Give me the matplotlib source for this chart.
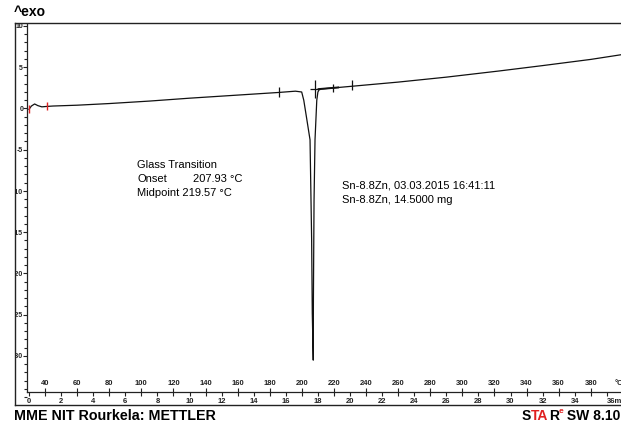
import matplotlib.pyplot as plt
from matplotlib.ticker import MultipleLocator

plt.rcParams['font.family'] = ['Liberation Sans', 'DejaVu Sans']

# DSC run Sn-8.8Zn, heat flow (mW) against time (min), 10 K/min from 30 C
time_min = [0.0, 0.15, 0.35, 0.55, 0.8, 1.1, 1.5, 3.0, 5.0, 7.5, 10.0, 12.0,
            14.0, 15.6, 16.6, 16.99, 17.12, 17.3, 17.51, 17.61, 17.65, 17.71,
            17.72, 17.76, 17.82, 17.93, 18.0, 18.1, 19.0, 21.0, 23.0, 26.0,
            29.3, 32.0, 35.0, 37.0, 39.5]
heat_flow_mw = [-0.1, 0.3, 0.55, 0.35, 0.2, 0.25, 0.3, 0.4, 0.6, 0.9, 1.25, 1.5,
                1.75, 1.95, 2.1, 2.0, 1.0, -1.2, -3.8, -15.9, -24.8, -30.5,
                -23.2, -11.1, -3.8, 1.0, 2.0, 2.35, 2.5, 2.85, 3.2, 3.8,
                4.55, 5.2, 5.95, 6.55, 7.1]

# glass transition evaluation: tangent limits, onset, midpoint (deg C)
gt_limits_c = [186.0, 231.0]
gt_limits_mw = [2.05, 2.9]
onset_c, onset_mw = 207.93, 2.35
midpoint_c, midpoint_mw = 219.57, 2.45

# red integration start marks
start_time = [0.0, 1.1]
start_mw = [-0.1, 0.25]

y_ticks = [10, 5, 0, -5, -10, -15, -20, -25, -30]
time_ticks = list(range(0, 37, 2))
time_labels = [str(t) for t in time_ticks[:-1]] + ['36min']
temp_ticks = list(range(40, 401, 20))
temp_labels = [str(t) for t in temp_ticks[:-1]] + ['\u00b0C']


def t_to_c(t):
    return 30 + 10 * t


def c_to_t(c):
    return (c - 30) / 10


W, H = 621, 423
fig = plt.figure(figsize=(W / 100, H / 100), dpi=100)


def fx(x):
    return x / W


def fy(y):
    return 1 - y / H


# frame box (right edge runs off the picture like the original)
left, right, top, bottom = 15, 660, 23, 405
rect = [fx(left), fy(bottom), (right - left) / W, (bottom - top) / H]
frame = fig.add_axes(rect)
frame.set_xticks([])
frame.set_yticks([])
for s in frame.spines.values():
    s.set_color('#222222')
    s.set_linewidth(1.0)

ax = fig.add_axes(rect, facecolor='none')
ax.set_xlim((left - 29) / 16.05, (right - 29) / 16.05)
ax.set_ylim((108.5 - bottom) / 8.25, (108.5 - top) / 8.25)
ymin, ymax = ax.get_ylim()

x_axis_at = -34.4
y_axis_at = -0.12
ax.spines[['top', 'right']].set_visible(False)
ax.spines['left'].set_position(('data', y_axis_at))
ax.spines['bottom'].set_position(('data', x_axis_at))
ax.spines['left'].set_bounds(x_axis_at, 10.2)
ax.spines['bottom'].set_bounds(y_axis_at, 40)
for s in ('left', 'bottom'):
    ax.spines[s].set_linewidth(0.9)
    ax.spines[s].set_color('#222222')

tick_fs = 5.5
ax.set_yticks(y_ticks)
ax.set_yticklabels([str(v) for v in y_ticks])
ax.yaxis.set_minor_locator(MultipleLocator(1))
ax.tick_params(axis='y', which='major', direction='out', length=2.6, width=0.8,
               labelsize=5, pad=0.2, colors='#222222')
ax.tick_params(axis='y', which='minor', direction='out', length=2.2, width=0.8,
               colors='#222222')
for lbl in ax.get_yticklabels():
    lbl.set_fontweight('bold')
    lbl.set_clip_box(frame.bbox)
    lbl.set_clip_on(True)

ax.set_xticks(time_ticks)
ax.set_xticklabels(time_labels)
ax.tick_params(axis='x', which='major', direction='out', length=3, width=0.8,
               labelsize=tick_fs, pad=1, colors='#222222')
for lbl in ax.get_xticklabels():
    lbl.set_fontweight('bold')
ax.get_xticklabels()[-1].set_ha('left')

sec = ax.secondary_xaxis((x_axis_at - ymin) / (ymax - ymin),
                         functions=(t_to_c, c_to_t))
sec.set_alignment('top')
sec.spines[['top', 'bottom']].set_visible(False)
sec.set_xticks(temp_ticks)
sec.set_xticklabels(temp_labels)
sec.tick_params(axis='x', direction='inout', length=6, width=0.8,
                labelsize=tick_fs, pad=1, colors='#222222')
for lbl in sec.get_xticklabels():
    lbl.set_fontweight('bold')
sec.get_xticklabels()[-1].set_ha('right')

# curve
ax.plot(time_min, heat_flow_mw, color='#111111', lw=0.9)

# evaluation marks
mark = dict(color='#111111', mew=0.9, ls='none')
ax.plot([c_to_t(c) for c in gt_limits_c], gt_limits_mw, marker='|', ms=7, **mark)
ax.plot(c_to_t(onset_c), onset_mw, marker='|', ms=13, **mark)
ax.plot(c_to_t(onset_c), onset_mw, marker='_', ms=7, **mark)
ax.plot(c_to_t(midpoint_c), midpoint_mw, marker='|', ms=6, **mark)
ax.plot([c_to_t(onset_c) + 0.25, c_to_t(midpoint_c) + 0.3],
        [onset_mw, midpoint_mw + 0.1], color='#111111', lw=1.4)
ax.plot(start_time, start_mw, ls='none', marker='|', ms=6, mew=1.0, color='#e02020')

# texts
fig.text(fx(14), fy(12), '^exo', fontsize=10, fontweight='bold', va='center', ha='left')

fs = 8
fig.text(fx(137), fy(165), 'Glass Transition', fontsize=fs, va='center')
fig.text(fx(137), fy(179), 'Onset', fontsize=fs, va='center')
fig.text(fx(193), fy(179), '207.93 \u00b0C', fontsize=fs, va='center')
fig.text(fx(137), fy(193), 'Midpoint 219.57 \u00b0C', fontsize=fs, va='center')

fig.text(fx(342), fy(186), 'Sn-8.8Zn, 03.03.2015 16:41:11', fontsize=fs, va='center')
fig.text(fx(342), fy(200), 'Sn-8.8Zn, 14.5000 mg', fontsize=fs, va='center')

fig.text(fx(14), fy(416), 'MME NIT Rourkela: METTLER', fontsize=10.3, fontweight='bold',
         va='center', ha='left')

t1 = fig.text(fx(522), fy(420), 'S', fontsize=10, fontweight='bold', va='baseline')
t2 = ax.annotate('TA', xy=(1, 0), xycoords=t1, va='bottom', fontsize=10,
                 fontweight='bold', color='#e02020', annotation_clip=False)
t3 = ax.annotate('R', xy=(1, 0), xycoords=t2, va='bottom', fontsize=10,
                 fontweight='bold', annotation_clip=False)
t4 = ax.annotate('e', xy=(1, 0.55), xycoords=t3, va='bottom', fontsize=6,
                 fontweight='bold', color='#e02020', annotation_clip=False)
ax.annotate(' SW 8.10', xy=(1, 0), xycoords=(t4, t3), va='bottom',
            fontsize=10, fontweight='bold', annotation_clip=False)

fig.savefig('out.png', dpi=100)
